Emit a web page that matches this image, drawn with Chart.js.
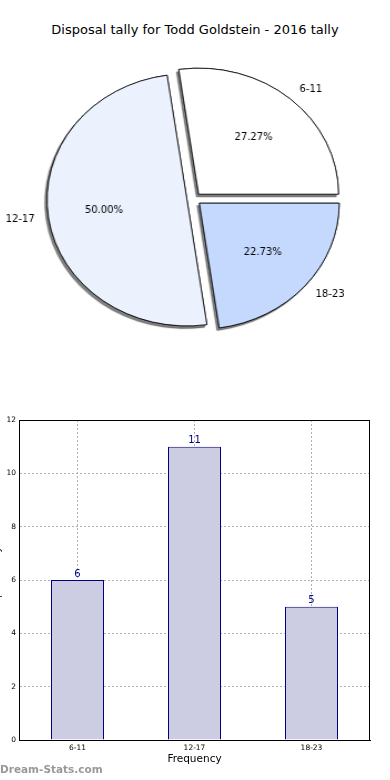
<!DOCTYPE html>
<html>
<head>
<meta charset="utf-8">
<script src="https://cdn.jsdelivr.net/npm/chart.js@4.4.0/dist/chart.umd.min.js"></script>
<style>
  html, body { margin: 0; padding: 0; background: #fff; }
  #page { position: relative; width: 390px; height: 780px; overflow: hidden; font-family: "DejaVu Sans", sans-serif; }
  #title { position: absolute; left: 0; top: 22px; width: 390px; text-align: center; font-size: 13px; line-height: 15px; color: #000; }
  #pieBox { position: absolute; left: 14px; top: 49px; width: 360px; height: 300px; transform: scaleX(1.11); transform-origin: 50% 50%; }
  #barBox { position: absolute; left: -12px; top: 400px; width: 402px; height: 380px; }
  #mark { position: absolute; left: 0; top: 763px; font-size: 10.5px; font-weight: bold; color: #999; }
</style>
</head>
<body>
<div id="page">
  <div id="title">Disposal tally for Todd Goldstein - 2016 tally</div>
  <div id="pieBox"><canvas id="pie" width="360" height="300"></canvas></div>
  <div id="barBox"><canvas id="bar" width="402" height="380"></canvas></div>
  <div id="mark">Dream-Stats.com</div>
</div>
<script>
const categories = ["6-11", "12-17", "18-23"];
const counts = [6, 11, 5];
const pieColors = ["#ffffff", "#ebf2fe", "#c5d9fe"];
const yTickStep = 2;
const yMax = 12;

const stretch = 1.11;   // matplotlib pie is not drawn with equal aspect
const explode = 6.4;
const total = counts.reduce((a, b) => a + b, 0);

// matplotlib goes counter-clockwise from 3 o'clock, chart.js clockwise
const order = [2, 1, 0];

const explodedPie = {
  id: "explodedPie",
  beforeDatasetDraw(chart, args) {
    const ctx = chart.ctx;
    const drawArcs = (withShadow) => {
      ctx.save();
      if (withShadow) {
        ctx.shadowColor = "rgba(0,0,0,0.5)";
        ctx.shadowOffsetX = -2;
        ctx.shadowOffsetY = 2.5;
        ctx.shadowBlur = 1;
      }
      args.meta.data.forEach((arc) => {
        const mid = (arc.startAngle + arc.endAngle) / 2;
        ctx.save();
        ctx.translate(Math.cos(mid) * explode, Math.sin(mid) * explode);
        arc.draw(ctx);
        ctx.restore();
      });
      ctx.restore();
    };
    drawArcs(true);
    drawArcs(false);
    return false;
  },
  afterDatasetsDraw(chart) {
    const ctx = chart.ctx;
    const meta = chart.getDatasetMeta(0);
    ctx.save();
    ctx.fillStyle = "#000";
    ctx.font = "10px 'DejaVu Sans'";
    ctx.textBaseline = "middle";
    meta.data.forEach((arc, j) => {
      const i = order[j];
      const mid = (arc.startAngle + arc.endAngle) / 2;
      const cx = arc.x + Math.cos(mid) * explode;
      const cy = arc.y + Math.sin(mid) * explode;
      const r = arc.outerRadius;
      const put = (text, dist, align) => {
        ctx.save();
        ctx.translate(cx + Math.cos(mid) * r * dist, cy + Math.sin(mid) * r * dist);
        ctx.scale(1 / stretch, 1);
        ctx.textAlign = align;
        ctx.fillText(text, 0, 0);
        ctx.restore();
      };
      put((counts[i] / total * 100).toFixed(2) + "%", 0.6, "center");
      put(categories[i], 1.1, Math.cos(mid) > 0 ? "left" : "right");
    });
    ctx.restore();
  }
};

new Chart(document.getElementById("pie"), {
  type: "pie",
  data: {
    labels: order.map((i) => categories[i]),
    datasets: [{
      data: order.map((i) => counts[i]),
      backgroundColor: order.map((i) => pieColors[i]),
      borderColor: "#000",
      borderWidth: 0.8,
      offset: 0,
      hoverOffset: 0
    }]
  },
  options: {
    responsive: false,
    animation: false,
    events: [],
    rotation: 90,
    radius: 126,
    layout: { padding: 0 },
    plugins: { legend: { display: false }, tooltip: { enabled: false } }
  },
  plugins: [explodedPie]
});

const frameAndValues = {
  id: "frameAndValues",
  afterDatasetsDraw(chart) {
    const ctx = chart.ctx;
    const a = chart.chartArea;
    ctx.save();
    ctx.strokeStyle = "#000";
    ctx.lineWidth = 1;
    ctx.strokeRect(Math.round(a.left) + 0.5, Math.round(a.top) + 0.5, Math.round(a.right - a.left) - 1, Math.round(a.bottom - a.top));
    ctx.fillStyle = "#00008b";
    ctx.font = "10px 'DejaVu Sans'";
    ctx.textAlign = "center";
    ctx.textBaseline = "bottom";
    chart.getDatasetMeta(0).data.forEach((bar, i) => {
      ctx.fillText(String(counts[i]), bar.x, bar.y - 1);
    });
    ctx.restore();
  }
};

new Chart(document.getElementById("bar"), {
  type: "bar",
  data: {
    labels: categories,
    datasets: [{
      data: counts,
      backgroundColor: "#cccce3",
      borderColor: "#000080",
      borderWidth: 1,
      barPercentage: 53 / 117,
      categoryPercentage: 1
    }]
  },
  options: {
    responsive: false,
    animation: false,
    events: [],
    layout: { padding: { left: 0, right: 20, top: 20, bottom: 0 } },
    plugins: { legend: { display: false }, tooltip: { enabled: false } },
    scales: {
      x: {
        grid: { offset: false, color: "#b0b0b0", lineWidth: 1, drawTicks: false },
        border: { color: "#000", dash: [2, 2] },
        ticks: { color: "#000", font: { family: "DejaVu Sans", size: 7.5 }, padding: 4 },
        title: { display: true, text: "Frequency", color: "#000", font: { family: "DejaVu Sans", size: 10.5 }, padding: { top: 0, bottom: 14 } },
        afterFit(s) { s.height = 40; }
      },
      y: {
        min: 0,
        max: yMax,
        grid: { color: "#b0b0b0", lineWidth: 1, drawTicks: false },
        border: { color: "#000", dash: [2, 2] },
        ticks: { stepSize: yTickStep, color: "#000", font: { family: "DejaVu Sans", size: 7.5 }, padding: 3 },
        title: { display: true, text: "Disposal tally", color: "#000", font: { family: "DejaVu Sans", size: 10 }, padding: { top: 3, bottom: 0 } },
        afterFit(s) { s.width = 31; }
      }
    }
  },
  plugins: [frameAndValues]
});
</script>
</body>
</html>
